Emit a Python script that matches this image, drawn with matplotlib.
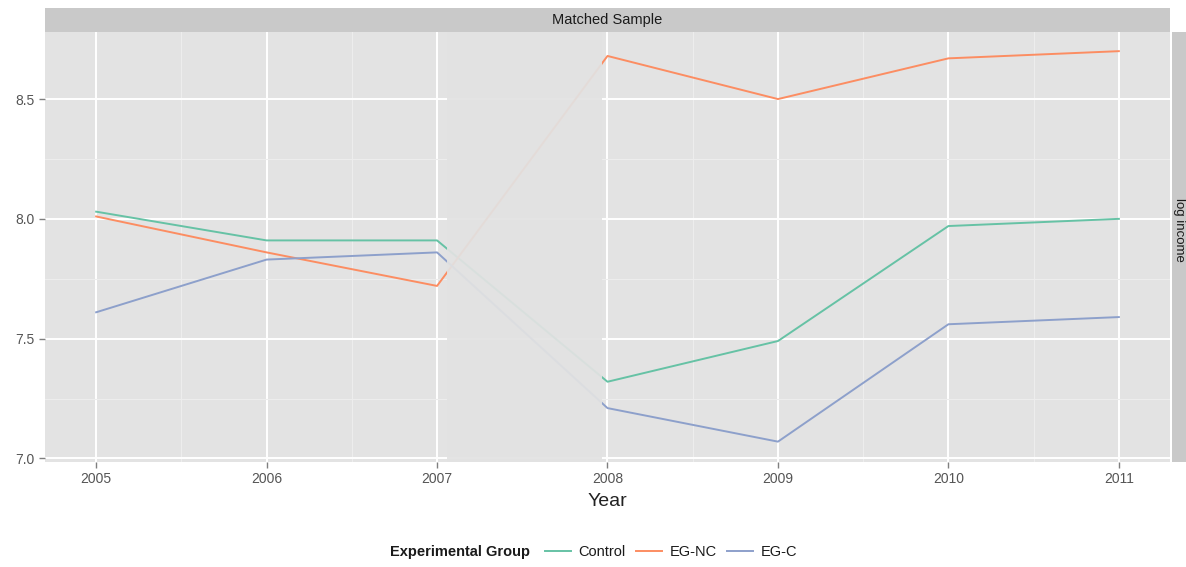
import numpy as np
import matplotlib
matplotlib.use('Agg')
import matplotlib.pyplot as plt
from matplotlib.lines import Line2D

plt.rcParams['font.family'] = ['Liberation Sans', 'DejaVu Sans']

# data
years = [2005, 2006, 2007, 2008, 2009, 2010, 2011]
control = [8.03, 7.91, 7.91, 7.32, 7.49, 7.97, 8.00]
eg_nc = [8.01, 7.86, 7.72, 8.68, 8.50, 8.67, 8.70]
eg_c = [7.61, 7.83, 7.86, 7.21, 7.07, 7.56, 7.59]
groups = ['Control', 'EG-NC', 'EG-C']
colors = ['#66C2A5', '#FC8D62', '#8DA0CB']
yticks = [7.0, 7.5, 8.0, 8.5]

W, H = 1186, 567
fig = plt.figure(figsize=(W / 100, H / 100), dpi=100)

# panel
ax = fig.add_axes([45 / W, 1 - 462 / H, 1125 / W, 430 / H])
ax.set_facecolor('#E3E3E3')
for s in ax.spines.values():
    s.set_visible(False)

for vals, c in zip([control, eg_nc, eg_c], colors):
    ax.plot(years, vals, color=c, lw=1.4, zorder=2)

# faded gap between 2007 and 2008
ax.axvspan(2007.06, 2007.97, color='#E2E2E2', alpha=0.93, lw=0, zorder=3)

ax.set_xlim(2004.7, 2011.3)
ax.set_ylim(6.985, 8.78)
ax.set_xticks(years)
ax.set_yticks(yticks)
ax.set_xticks([y + 0.5 for y in years[:-1]], minor=True)
ax.set_yticks([7.25, 7.75, 8.25], minor=True)
ax.grid(which='major', color='white', lw=1.4, zorder=1)
ax.grid(which='minor', color='#EDEDED', lw=0.8, zorder=1)
ax.set_axisbelow(True)
ax.tick_params(which='major', colors='#7F7F7F', length=4, width=1,
               labelcolor='#555555', labelsize=10)
ax.tick_params(which='minor', length=0)
ax.set_yticklabels(['%.1f' % v for v in yticks])
ax.set_xlabel('Year', fontsize=14, color='#222222', labelpad=5)

# top strip
st = fig.add_axes([45 / W, 1 - 32 / H, 1125 / W, 24 / H])
st.set_facecolor('#C9C9C9')
st.set_xticks([])
st.set_yticks([])
for s in st.spines.values():
    s.set_visible(False)
st.text(0.5, 0.5, 'Matched Sample', ha='center', va='center',
        fontsize=10.5, color='#1A1A1A', transform=st.transAxes)

# right strip
rs = fig.add_axes([1172 / W, 1 - 462 / H, 14 / W, 430 / H])
rs.set_facecolor('#C9C9C9')
rs.set_xticks([])
rs.set_yticks([])
for s in rs.spines.values():
    s.set_visible(False)
rs.text(0.5, 0.54, 'log income', ha='center', va='center', rotation=270,
        fontsize=9.5, color='#1A1A1A', transform=rs.transAxes)

# legend
fig.text(390 / W, 1 - 552 / H, 'Experimental Group', fontsize=10.5,
         fontweight='bold', ha='left', va='center', color='#1A1A1A')
handles = [Line2D([], [], color=c, lw=1.4) for c in colors]
fig.legend(handles, groups, loc='center left',
           bbox_to_anchor=(545 / W, 1 - 552 / H), ncol=3, frameon=False,
           fontsize=10.5, handlelength=1.8, handletextpad=0.5,
           columnspacing=0.7, borderpad=0, borderaxespad=0,
           labelcolor='#1A1A1A')

fig.savefig('out.png', dpi=100)
